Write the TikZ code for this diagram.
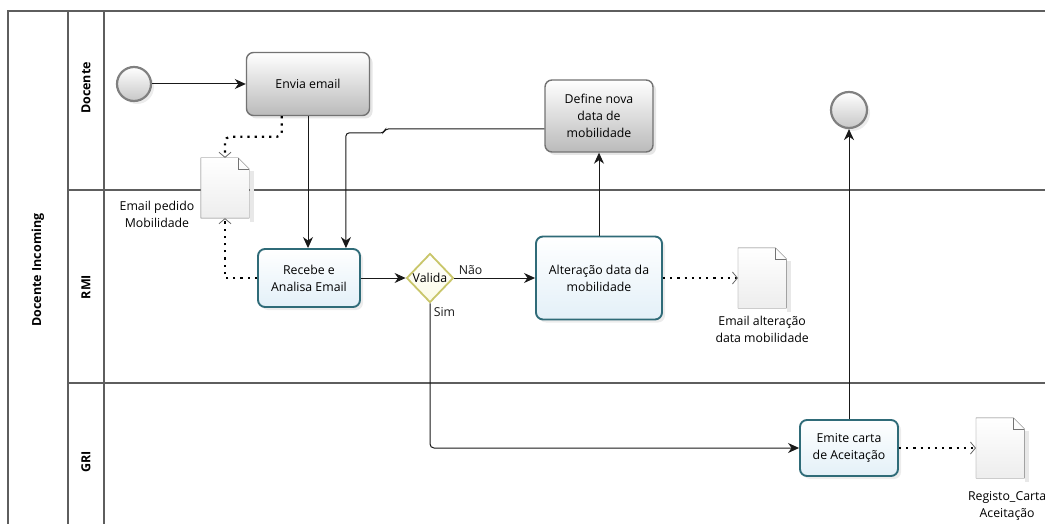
\documentclass[tikz,border=0pt]{standalone}
\usepackage{fontspec}
\setmainfont{Open Sans}
\usetikzlibrary{shapes.geometric, positioning, calc, shadows, arrows.meta}

\definecolor{poolline}{HTML}{5E5E5E}
\definecolor{taskblue}{HTML}{2F6B78}
\definecolor{taskfill}{HTML}{E3F0F8}
\definecolor{gateline}{HTML}{C9C66A}
\definecolor{gatefill}{HTML}{FBFBE6}

% folded page for the data objects
\newcommand\foldeddoc[1]{%
  \fill[black!9] ($(#1.north east)+(1,13)$) rectangle ($(#1.south east)+(5,4)$);
  \draw[black!55, top color=white, bottom color=black!7]
    (#1.north west) -- ($(#1.north east)+(-11,0)$) -- ($(#1.north east)+(0,11)$)
    -- (#1.south east) -- (#1.south west) -- cycle;
  \draw[black!55] ($(#1.north east)+(-11,0)$) |- ($(#1.north east)+(0,11)$);}

\begin{document}
\begin{tikzpicture}[x=1pt, y=-1pt, font=\fontsize{12.3}{17}\selectfont]
        \tikzstyle{graytask}=[draw=black!55, line width=1.4pt, rounded corners=7pt, top color=white, bottom color=black!27, align=center, drop shadow={shadow xshift=3pt, shadow yshift=-3pt, opacity=.2}];
        \tikzstyle{bluetask}=[draw=taskblue, line width=1.9pt, rounded corners=7pt, top color=white, bottom color=taskfill, align=center, drop shadow={shadow xshift=3pt, shadow yshift=-3pt, opacity=.15}];
        \tikzstyle{event}=[draw=black!50, line width=2.2pt, circle, inner sep=0pt, top color=white, bottom color=black!22, drop shadow={shadow xshift=3pt, shadow yshift=-3pt, opacity=.15}];
        \tikzstyle{docnode}=[inner sep=0pt, minimum width=48pt, minimum height=60pt];
        \tikzstyle{flow}=[-{Stealth[length=11pt, width=10pt, inset=3.5pt]}, line width=1pt, black!90];
        \tikzstyle{assoc}=[-{Straight Barb[length=5pt, width=12pt, line width=.8pt, black!60]}, black, line width=2.2pt, dash pattern=on 2.2pt off 5pt];
        \tikzstyle{lanetitle}=[rotate=90, font=\fontsize{12.5}{14}\selectfont\bfseries];

        \useasboundingbox (0,0) rectangle (1045,524);
        \clip (0,0) rectangle (1045,524);

        % pool and lanes
        \draw[poolline, line width=1.1pt] (1060,11) -- (8,11) -- (8,540);
        \draw[poolline, line width=1.1pt] (68,11) -- (68,540) (104,11) -- (104,540);
        \draw[poolline, line width=1.1pt] (68,190) -- (1060,190) (68,383) -- (1060,383);
        \node[lanetitle] (pool) at (38,270) {Docente Incoming};
        \node[lanetitle] (lanedoc) at (86,88) {Docente};
        \node[lanetitle] (lanermi) at (86,287) {RMI};
        \node[lanetitle] (lanegri) at (86,462) {GRI};

        % tasks and events
        \node[event, minimum size=34pt] (start) at (134,84) {};
        \node[graytask, minimum width=123pt, minimum height=63pt] (envia) at (308,84) {Envia email};
        \node[bluetask, minimum width=102pt, minimum height=58pt] (recebe) at (309,278) {Recebe e\\Analisa Email};
        \node[diamond, draw=gateline, line width=1.8pt, top color=white, bottom color=gatefill, inner sep=0pt, minimum width=47pt, minimum height=49pt, label={center:Valida}] (valida) at (430,278) {};
        \node[bluetask, minimum width=126pt, minimum height=83pt] (alter) at (599,278) {Alteração data da\\mobilidade};
        \node[graytask, minimum width=108pt, minimum height=72pt] (define) at (599,116) {Define nova\\data de\\mobilidade};
        \node[bluetask, minimum width=98pt, minimum height=56pt] (emite) at (849,448) {Emite carta\\de Aceitação};
        \node[event, minimum size=36pt] (end) at (849,110) {};

        % data objects
        \node[docnode] (emaildoc) at (225,188) {};
        \node[docnode, right=75pt of alter] (altdoc) {};
        \node[docnode, right=77pt of emite] (cartadoc) {};
        \foldeddoc{emaildoc}
        \foldeddoc{altdoc}
        \foldeddoc{cartadoc}
        \node[align=center] (emaildoctxt) at (157,214) {Email pedido\\Mobilidade};
        \node[align=center, below=4pt of altdoc] (altdoctxt) {Email alteração\\data mobilidade};
        \node[align=center, below=10pt of cartadoc, xshift=7pt] (cartadoctxt) {Registo\_Carta\\Aceitação};

        % sequence flows
        \coordinate (jog) at ($(define.west)+(-159,13)$);
        \draw[flow] (start) -- (envia);
        \draw[flow] (envia.south) -- (envia.south |- recebe.north);
        \draw[flow, rounded corners=3pt] ($(define.west)+(0,13)$) -- (jog) -- ++(-2,4) -| ($(recebe.north east)+(-15,0)$);
        \draw[flow] (recebe) -- (valida);
        \draw[flow] (valida.east) -- node[pos=.2, above] (nao) {Não} (alter.west);
        \draw[flow, rounded corners=4pt] (valida.south) |- node[pos=0, anchor=north west] (sim) {Sim} (emite.west);
        \draw[flow] (alter) -- (define);
        \draw[flow] (emite) -- (end);

        % associations
        \draw[assoc, rounded corners=5pt] ($(envia.south west)+(36,0)$) |- ($(emaildoc.north)+(0,-21)$) -- (emaildoc.north);
        \draw[assoc] (recebe.west) -| (emaildoc.south);
        \draw[assoc] (alter.east) -- (altdoc.west);
        \draw[assoc] (emite.east) -- (cartadoc.west);
      \end{tikzpicture}
\end{document}
